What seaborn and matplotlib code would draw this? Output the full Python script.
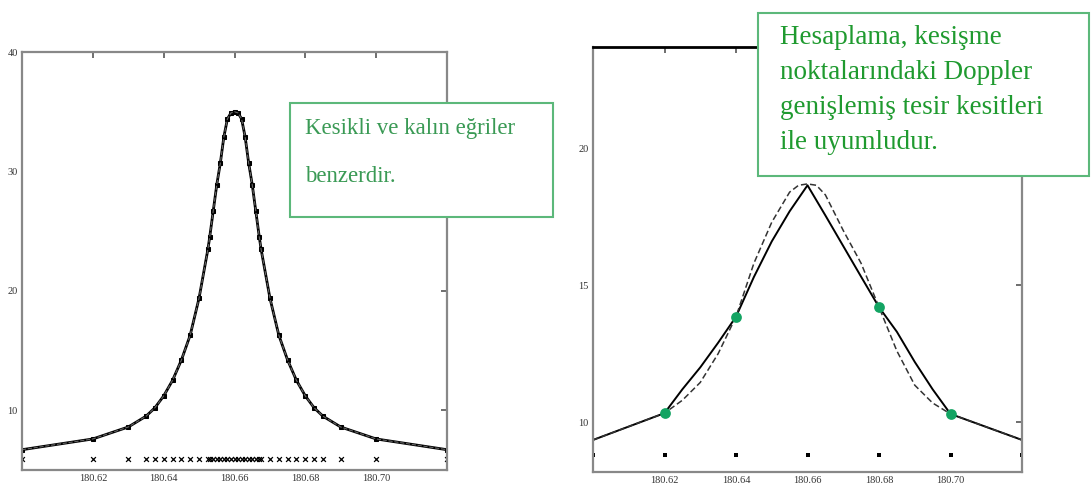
import matplotlib
matplotlib.use("Agg")
import matplotlib.pyplot as plt
import seaborn as sns
import pandas as pd
from matplotlib.patches import Rectangle

# ---------------- data ----------------
# left panel: sampled profile (thick and dashed curves coincide)
left_x = [180.60, 180.62, 180.63, 180.635, 180.6375, 180.64, 180.6425, 180.645,
          180.6475, 180.65, 180.6525, 180.653, 180.654, 180.655, 180.656, 180.657,
          180.658, 180.659, 180.66, 180.661, 180.662, 180.663, 180.664, 180.665,
          180.666, 180.667, 180.6675, 180.67, 180.6725, 180.675, 180.6775, 180.68,
          180.6825, 180.685, 180.69, 180.70, 180.72]
left_y = [6.7, 7.6, 8.6, 9.5, 10.2, 11.2, 12.5, 14.2,
          16.3, 19.4, 23.5, 24.5, 26.7, 28.9, 30.7, 32.9,
          34.4, 34.9, 35.0, 34.9, 34.4, 32.9, 30.7, 28.9,
          26.7, 24.5, 23.5, 19.4, 16.3, 14.2, 12.5, 11.2,
          10.2, 9.5, 8.6, 7.6, 6.7]
left_grid_level = 5.9

# right panel: solid (calculation) and dashed (Doppler) curves
solid_x = [180.60, 180.62, 180.625, 180.63, 180.635, 180.64, 180.645, 180.65,
           180.655, 180.66, 180.665, 180.67, 180.675, 180.68, 180.685, 180.69,
           180.695, 180.70, 180.72]
solid_y = [9.35, 10.33, 11.2, 12.0, 12.9, 13.85, 15.3, 16.6,
           17.7, 18.65, 17.55, 16.43, 15.31, 14.2, 13.3, 12.2,
           11.2, 10.3, 9.35]
dashed_x = [180.60, 180.62, 180.625, 180.63, 180.635, 180.64, 180.645, 180.65,
            180.655, 180.6575, 180.66, 180.6625, 180.665, 180.67, 180.675, 180.68,
            180.685, 180.69, 180.695, 180.70, 180.72]
dashed_y = [9.35, 10.33, 10.8, 11.45, 12.5, 13.85, 15.8, 17.3,
            18.4, 18.65, 18.7, 18.65, 18.3, 17.0, 15.8, 14.2,
            12.6, 11.35, 10.7, 10.3, 9.35]
cross_x = [180.62, 180.64, 180.68, 180.70]
cross_y = [10.33, 13.85, 14.2, 10.3]
right_grid_x = [180.60, 180.62, 180.64, 180.66, 180.68, 180.70, 180.72]
right_grid_level = 8.8

xticks = [180.62, 180.64, 180.66, 180.68, 180.70]
xticklabels = ["180.62", "180.64", "180.66", "180.68", "180.70"]
left_yticks = [10, 20, 30, 40]
right_yticks = [10, 15, 20]

text_left = "Kesikli ve kalın eğriler\nbenzerdir."
text_right = "Hesaplama, kesişme\nnoktalarındaki Doppler\ngenişlemiş tesir kesitleri\nile uyumludur."

# ---------------- style ----------------
sns.set_style("white")
plt.rcParams["font.family"] = ["Liberation Serif", "DejaVu Serif"]

fig = plt.figure(figsize=(10.91, 4.95), dpi=100)
axL = fig.add_axes([22 / 1091, 25 / 495, 425 / 1091, 418 / 495])
axR = fig.add_axes([593 / 1091, 23 / 495, 429 / 1091, 425 / 495])

dfL = pd.DataFrame({"x": left_x, "y": left_y})
sns.lineplot(data=dfL, x="x", y="y", ax=axL, color="black", linewidth=2.0,
             sort=False, estimator=None, marker="s", markersize=2.2,
             markeredgecolor="black")
sns.lineplot(data=dfL, x="x", y="y", ax=axL, color="#666666", linewidth=0.8,
             linestyle="--", sort=False, estimator=None)
dfLg = pd.DataFrame({"x": left_x, "y": [left_grid_level] * len(left_x)})
sns.scatterplot(data=dfLg, x="x", y="y", ax=axL, marker="x", s=12,
                color="black", linewidth=0.9)

dfS = pd.DataFrame({"x": solid_x, "y": solid_y})
dfD = pd.DataFrame({"x": dashed_x, "y": dashed_y})
sns.lineplot(data=dfS, x="x", y="y", ax=axR, color="black", linewidth=1.4,
             sort=False, estimator=None)
sns.lineplot(data=dfD, x="x", y="y", ax=axR, color="#333333", linewidth=1.1,
             linestyle=(0, (4, 2)), sort=False, estimator=None)
dfRg = pd.DataFrame({"x": right_grid_x, "y": [right_grid_level] * len(right_grid_x)})
sns.scatterplot(data=dfRg, x="x", y="y", ax=axR, marker="s", s=7,
                color="black", linewidth=0)
dfC = pd.DataFrame({"x": cross_x, "y": cross_y})
sns.scatterplot(data=dfC, x="x", y="y", ax=axR, marker="o", s=60,
                color="#13a463", linewidth=0, zorder=5)

axL.set_xlim(180.60, 180.72)
axL.set_ylim(5, 40)
axR.set_xlim(180.60, 180.72)
axR.set_ylim(8.18, 23.7)

for ax, yt in ((axL, left_yticks), (axR, right_yticks)):
    ax.set_xticks(xticks)
    ax.set_xticklabels(xticklabels)
    ax.set_yticks(yt)
    ax.set_yticklabels([str(v) for v in yt])
    ax.set_xlabel("")
    ax.set_ylabel("")
    ax.tick_params(direction="in", top=True, right=True, length=4, width=1.2,
                   color="#555555", labelsize=7.5, labelcolor="#333333", pad=3)
    for sp in ax.spines.values():
        sp.set_color("#888888")
        sp.set_linewidth(1.6)
axR.spines["top"].set_color("black")
axR.spines["top"].set_linewidth(2.0)

# annotation boxes
fig.patches.append(Rectangle((290 / 1091, (495 - 217) / 495), 263 / 1091, 114 / 495,
                             transform=fig.transFigure, facecolor="white",
                             edgecolor="#5cb87a", linewidth=1.5, zorder=10))
fig.patches.append(Rectangle((758 / 1091, (495 - 176) / 495), 331 / 1091, 163 / 495,
                             transform=fig.transFigure, facecolor="white",
                             edgecolor="#5cb87a", linewidth=1.5, zorder=10))
fig.text(305 / 1091, (495 - 118) / 495, text_left, color="#3a9a55", fontsize=16.5,
         va="top", ha="left", linespacing=2.7, zorder=11)
fig.text(780 / 1091, (495 - 25) / 495, text_right, color="#1f9a2f", fontsize=19.5,
         va="top", ha="left", linespacing=1.52, zorder=11)

fig.savefig("out.png", dpi=100)
